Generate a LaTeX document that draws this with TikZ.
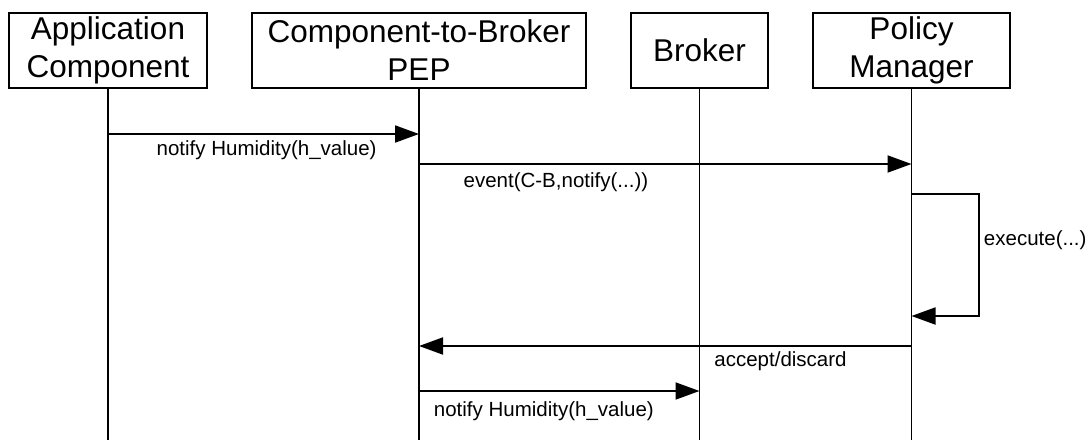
\documentclass[tikz,border=0pt]{standalone}
\usepackage{fontspec}
\setmainfont{Liberation Sans}
\usetikzlibrary{arrows.meta}
\begin{document}
\begin{tikzpicture}[x=1pt,y=-1pt,
  line width=1.9pt,
  actor/.style={draw, fill=white, minimum height=75pt, inner sep=0pt, align=center,
    font=\fontsize{31.5}{38}\selectfont},
  lifeline/.style={draw},
  msg/.style={draw, -{Triangle[length=24pt,width=17pt]}},
  msglabel/.style={font=\fontsize{20.5}{24}\selectfont, inner sep=0pt}]
  \useasboundingbox (0,0) rectangle (1092,440);

  % participants
  \node[actor, minimum width=198pt] (ac) at (108,50.5) {Application\\Component};
  \node[actor, minimum width=334pt] (pep) at (419,50.5) {Component-to-Broker\\PEP};
  \node[actor, minimum width=137pt] (br) at (699.5,50.5) {Broker};
  \node[actor, minimum width=197pt] (pm) at (911.5,50.5) {Policy\\Manager};

  % lifeline ends
  \coordinate (acEnd) at (ac.south |- 0,440);
  \coordinate (pepEnd) at (pep.south |- 0,440);
  \coordinate (brEnd) at (br.south |- 0,440);
  \coordinate (pmEnd) at (pm.south |- 0,440);
  \draw[lifeline] (ac.south) -- (acEnd);
  \draw[lifeline] (pep.south) -- (pepEnd);
  \draw[lifeline] (br.south) -- (brEnd);
  \draw[lifeline] (pm.south) -- (pmEnd);

  % message anchor points on lifelines
  \coordinate (m1s) at (ac.south |- 0,134);
  \coordinate (m1e) at (pep.south |- 0,134);
  \coordinate (m2s) at (pep.south |- 0,164);
  \coordinate (m2e) at (pm.south |- 0,164);
  \coordinate (m3s) at (pm.south |- 0,194);
  \coordinate (m3a) at (979,194);
  \coordinate (m3b) at (979,316);
  \coordinate (m3e) at (pm.south |- 0,316);
  \coordinate (m4s) at (pm.south |- 0,346);
  \coordinate (m4e) at (pep.south |- 0,346);
  \coordinate (m5s) at (pep.south |- 0,391);
  \coordinate (m5e) at (br.south |- 0,391);

  % messages
  \draw[msg] (m1s) -- (m1e)
    node[msglabel, pos=0.51, yshift=-16pt] (l1) {notify Humidity(h\_value)};
  \draw[msg] (m2s) -- (m2e)
    node[msglabel, pos=0.278, yshift=-18pt] (l2) {event(C-B,notify(...))};
  \draw[msg] (m3s) -- (m3a) -- (m3b) -- (m3e);
  \node[msglabel, anchor=west] (l3) at (983,240) {execute(...)};
  \draw[msg] (m4s) -- (m4e)
    node[msglabel, pos=0.266, yshift=-15pt] (l4) {accept/discard};
  \draw[msg] (m5s) -- (m5e)
    node[msglabel, pos=0.445, yshift=-20pt] (l5) {notify Humidity(h\_value)};
\end{tikzpicture}
\end{document}
